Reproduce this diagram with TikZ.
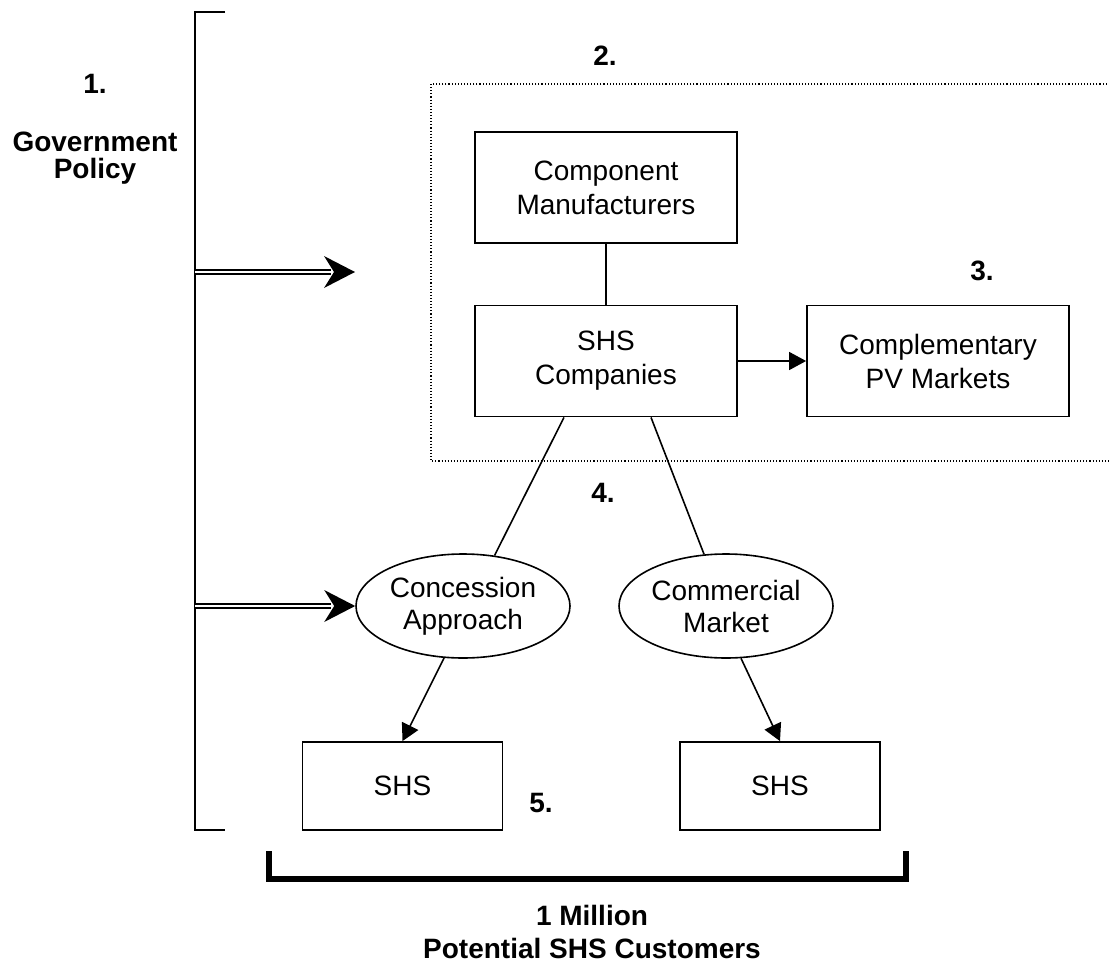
\documentclass[tikz,border=0pt]{standalone}
\usepackage{fontspec}
\setmainfont{Liberation Sans}
\usetikzlibrary{arrows.meta,shapes.geometric}

\begin{document}
\begin{tikzpicture}[x=1pt,y=-1pt,
  box/.style={draw,line width=1.8pt,minimum width=262pt,minimum height=111pt,
    inner sep=0pt,align=center,font=\fontsize{28}{34}\selectfont},
  smallbox/.style={draw,line width=1.8pt,minimum width=200pt,minimum height=88pt,
    inner sep=0pt,align=center,font=\fontsize{28}{34}\selectfont},
  oval/.style={draw,ellipse,line width=1.6pt,minimum width=214pt,minimum height=104pt,
    inner sep=0pt,align=center,font=\fontsize{28}{32}\selectfont},
  lbl/.style={inner sep=0pt,align=center,font=\bfseries\fontsize{28}{27}\selectfont},
  link/.style={line width=1.6pt},
  arr/.style={line width=1.6pt,-{Triangle[length=17pt,width=18pt]}},
  dbl/.style={line width=1.5pt,double distance=2.2pt},
  region/.style={line width=1.1pt,dash pattern=on 1.1pt off 2pt},
  brace/.style={line width=2.2pt},
  heavybrace/.style={line width=6pt}]

\useasboundingbox (0,0) rectangle (1109,969);
\clip (0,0) rectangle (1109,969);

% dotted region around the supply side
\draw[region] (431,84) rectangle (1125,461);

% boxes
\node[box] (cm) at (606,187.5) {Component\\Manufacturers};
\node[box] (sc) at (606,361) {SHS\\Companies};
\node[box] (pv) at (938,361) {Complementary\\PV Markets};
\node[smallbox] (ls) at (402.5,786) {SHS};
\node[smallbox] (rs) at (780,786) {SHS};

% delivery models
\node[oval] (ca) at (463,606) {Concession\\Approach};
\node[oval] (cmk) at (726,606) {Commercial\\Market};

% labels
\node[lbl,anchor=base] (n1) at (95,93) {1.};
\node[lbl] (gp) at (95,158) {Government\\Policy};
\node[lbl,anchor=base] (n2) at (605,65) {2.};
\node[lbl,anchor=base] (n3) at (982,280) {3.};
\node[lbl,anchor=base] (n4) at (603,502) {4.};
\node[lbl,anchor=base] (n5) at (541,812) {5.};
\node[lbl,font=\bfseries\fontsize{28}{33}\selectfont] (cu) at (592,931.5)
  {1 Million\\Potential SHS Customers};

% policy bracket
\coordinate (pt) at (225,12);
\coordinate (pb) at (225,830);
\draw[brace] (pt) -- (195,12) -- (195,830) -- (pb);

% customer bracket
\coordinate (cl) at (269,851);
\coordinate (cr) at (906,851);
\draw[heavybrace] (cl) -- (269,879) -- (906,879) -- (cr);

% policy arrows
\coordinate (g1) at (195,272);
\coordinate (t1) at (355,272);
\coordinate (g2) at (195,606);
\draw[dbl] (g1) -- ([xshift=-24pt]t1);
\fill (t1) -- ++(-31,-16) -- ++(10,16) -- ++(-10,16) -- cycle;
\draw[dbl] (g2) -- ([xshift=-24pt]ca.west);
\fill (ca.west) -- ++(-31,-16) -- ++(10,16) -- ++(-10,16) -- cycle;

% connectors
\draw[link] (cm.south) -- (sc.north);
\draw[arr] (sc.east) -- (pv.west);
\draw[link] ([xshift=-42pt]sc.south) -- (ca.58);
\draw[link] ([xshift=45pt]sc.south) -- (cmk.113);
\draw[arr] (ca.250) -- (ls.north);
\draw[arr] (cmk.286) -- (rs.north);

\end{tikzpicture}
\end{document}
